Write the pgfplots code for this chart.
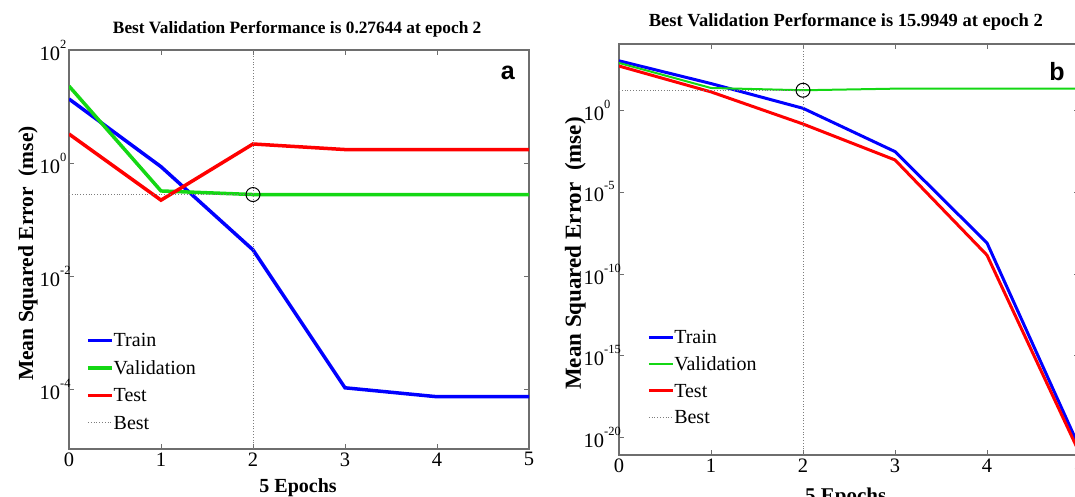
\documentclass[border=0pt]{standalone}
\usepackage{pgfplots}
\pgfplotsset{compat=1.18}
\usepackage{fontspec}
\setmainfont{Liberation Serif}
\newfontfamily\panelfont{Liberation Sans}

\definecolor{trainblue}{RGB}{0,0,255}
\definecolor{valgreen}{RGB}{20,215,20}
\definecolor{testred}{RGB}{255,0,0}
\definecolor{axisgray}{RGB}{110,110,110}
\definecolor{bestgray}{RGB}{125,125,125}

% power-of-ten label whose small exponent hangs to the right of the base
\newcommand{\ex}[1]{10\rlap{\raisebox{12pt}{\fontsize{12.5}{13}\selectfont #1}}}

\pgfplotsset{
  every axis/.append style={
    scale only axis,
    anchor=south west,
    xmin=0, xmax=5,
    xtick={0,1,2,3,4,5},
    xticklabels={0,1,2,3,4,5},
    yminorticks=false,
    axis line style={axisgray, line width=1.1pt},
    every tick/.style={axisgray, line width=0.9pt},
    major tick length=5pt,
    tick align=inside,
    tick label style={font=\fontsize{20.5}{24}\selectfont},
    legend cell align=left,
  },
}

\begin{document}
\begin{tikzpicture}[x=1pt,y=1pt]
\useasboundingbox (0,0) rectangle (1075,497);
\clip (0,0) rectangle (1075,497);

% ---------------- panel a ----------------
\begin{semilogyaxis}[
  at={(69pt,48pt)}, width=460pt, height=399pt,
  ymin=8.67e-6, ymax=100,
  ytick={1e-4,1e-2,1,1e2},
  yticklabels={\ex{-4},\ex{-2},\ex{0},\ex{2}},
  yticklabel style={xshift=-5.3pt},
  title={Best Validation Performance is 0.27644 at epoch 2},
  title style={at={(axis description cs:0.496,1.058)}, anchor=center, yshift=-8pt, font=\fontsize{17.3}{20}\selectfont\bfseries},
  ylabel={Mean Squared Error~~(mse)},
  xlabel={5 Epochs},
  ylabel style={at={(axis description cs:-0.089,0.49)}, anchor=center, font=\fontsize{21.5}{24}\selectfont\bfseries},
  xlabel style={at={(axis description cs:0.498,-0.098)}, anchor=center, font=\fontsize{20}{24}\selectfont\bfseries},
  legend image code/.code={\draw[#1] (0pt,0pt) -- (24pt,0pt);},
  legend style={at={(axis description cs:0.037,0.2967)}, anchor=north west,
    draw=none, fill=none, inner sep=0pt, row sep=8.5pt, column sep=0pt,
    font=\fontsize{20}{24}\selectfont,
    nodes={inner sep=0pt, text height=16pt, text depth=3pt}},
]
\addplot[trainblue, line width=3.5pt] coordinates
  {(0,13.6) (1,0.86) (2,0.029) (3,1.05e-4) (4,7.3e-5) (5,7.3e-5)};
\addlegendentry{Train}
\addplot[valgreen, line width=3.5pt] coordinates
  {(0,23) (1,0.32) (2,0.27644) (3,0.2765) (4,0.2762) (5,0.2762)};
\addlegendentry{Validation}
\addplot[testred, line width=3.5pt] coordinates
  {(0,3.26) (1,0.22) (2,2.17) (3,1.73) (4,1.73) (5,1.73)};
\addlegendentry{Test}
\addplot[bestgray, line width=1pt, dash pattern=on 1pt off 1.8pt] coordinates
  {(2,8.67e-6) (2,100)};
\addlegendentry{Best}
\addplot[bestgray, line width=1pt, dash pattern=on 1pt off 1.8pt, forget plot] coordinates
  {(0,0.27644) (2,0.27644)};
\addplot[only marks, mark=o, mark size=7pt, mark options={black, line width=1pt}, forget plot]
  coordinates {(2,0.27644)};
\node[font=\panelfont\bfseries\fontsize{25}{28}\selectfont] at (rel axis cs:0.954,0.942) {a};
\end{semilogyaxis}

% ---------------- panel b ----------------
\begin{semilogyaxis}[
  at={(619pt,42pt)}, width=460pt, height=411pt,
  ymin=9.1e-22, ymax=1.06e4,
  ytick={1e-20,1e-15,1e-10,1e-5,1},
  yticklabels={\ex{-20},\ex{-15},\ex{-10},\ex{-5},\ex{0}},
  yticklabel style={xshift=-11.3pt},
  title={Best Validation Performance is 15.9949 at epoch 2},
  title style={at={(axis description cs:0.493,1.058)}, anchor=center, yshift=-8pt, font=\fontsize{18.5}{21}\selectfont\bfseries},
  ylabel={Mean Squared Error~~(mse)},
  xlabel={5 Epochs},
  ylabel style={at={(axis description cs:-0.095,0.49)}, anchor=center, font=\fontsize{23}{26}\selectfont\bfseries},
  xlabel style={at={(axis description cs:0.493,-0.103)}, anchor=center, font=\fontsize{21}{24}\selectfont\bfseries},
  legend image code/.code={\draw[#1] (0pt,0pt) -- (24pt,0pt);},
  legend style={at={(axis description cs:0.061,0.310)}, anchor=north west,
    draw=none, fill=none, inner sep=0pt, row sep=7.7pt, column sep=0pt,
    font=\fontsize{20}{24}\selectfont,
    nodes={inner sep=0pt, text height=16pt, text depth=3pt}},
]
\addplot[trainblue, line width=3pt] coordinates
  {(0,1000) (1,41) (2,1.27) (3,2.9e-3) (4,7.8e-9) (5,3e-21)};
\addlegendentry{Train}
\addplot[valgreen, line width=2pt] coordinates
  {(0,740) (1,22) (2,15.9949) (3,20) (4,20) (5,20)};
\addlegendentry{Validation}
\addplot[testred, line width=3pt] coordinates
  {(0,480) (1,12.7) (2,0.14) (3,9e-4) (4,1.4e-9) (5,1.4e-21)};
\addlegendentry{Test}
\addplot[bestgray, line width=1pt, dash pattern=on 1pt off 1.8pt] coordinates
  {(2,9.1e-22) (2,1.06e4)};
\addlegendentry{Best}
\addplot[bestgray, line width=1pt, dash pattern=on 1pt off 1.8pt, forget plot] coordinates
  {(0,15.9949) (2,15.9949)};
\addplot[only marks, mark=o, mark size=7pt, mark options={black, line width=1pt}, forget plot]
  coordinates {(2,15.9949)};
\node[font=\panelfont\bfseries\fontsize{25}{28}\selectfont] at (rel axis cs:0.952,0.932) {b};
\end{semilogyaxis}
\end{tikzpicture}
\end{document}
